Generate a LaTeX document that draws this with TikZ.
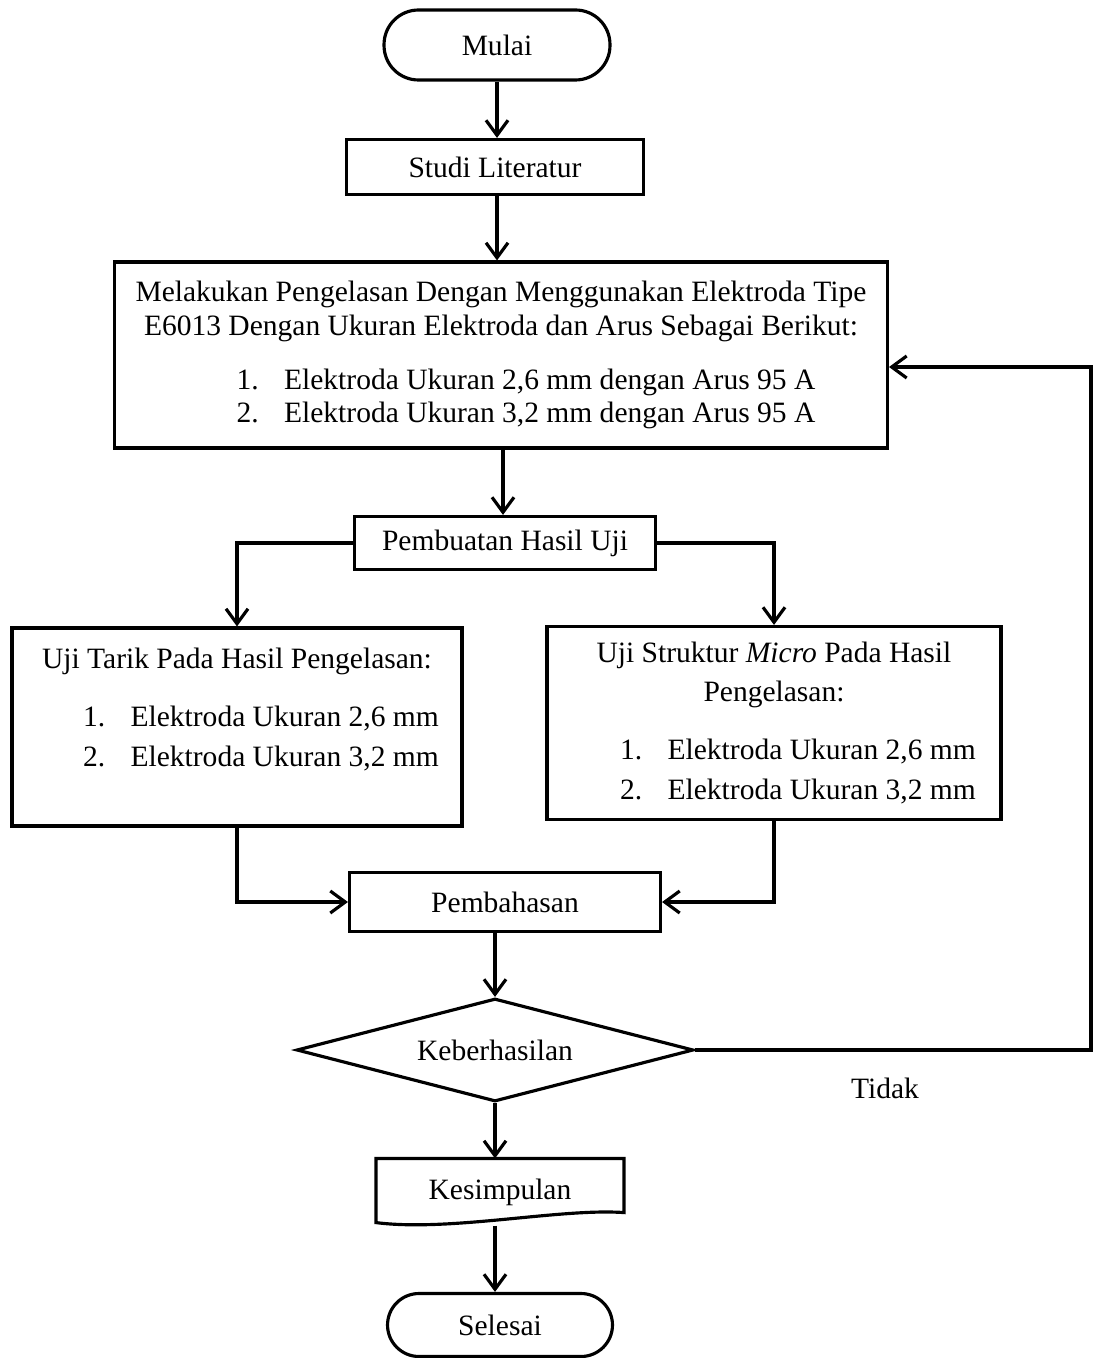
\documentclass[tikz,border=0pt]{standalone}
\usepackage{fontspec}
\setmainfont{Liberation Serif}
\usepackage{tikz}
\usetikzlibrary{arrows.meta,calc,shapes.geometric,positioning}
\newcommand{\teksA}{\fontsize{16.8}{19.3}\selectfont}
\newcommand{\teksB}{\fontsize{16.8}{22.5}\selectfont}
\newcommand{\nomor}[1]{\makebox[0.95cm][l]{#1}}

\begin{document}
\begin{tikzpicture}[x=0.02cm,y=-0.02cm,line width=1.8pt,
  arr/.style={-{Straight Barb[length=0.3cm,width=0.44cm]}},
  box/.style={draw,rectangle,inner sep=0pt,font=\teksA,align=center},
  term/.style={box,rounded corners=#1},
  cabang/.style={box,font=\teksB}]
  \useasboundingbox (0,0) rectangle (1093,1358);
  % alur utama
  \node[term=0.69cm,minimum width=4.52cm,minimum height=1.4cm] (mulai) at (497,45) {Mulai};
  \node[box,minimum width=5.94cm,minimum height=1.1cm] (studi) at (495,167) {Studi Literatur};
  \node[box,minimum width=15.46cm,minimum height=3.72cm] (las) at (501,355)
    {Melakukan Pengelasan Dengan Menggunakan Elektroda Tipe\\
     E6013 Dengan Ukuran Elektroda dan Arus Sebagai Berikut:\\[0.4cm]
     \hspace*{1cm}\nomor{1.}Elektroda Ukuran 2,6 mm dengan Arus 95 A\\
     \hspace*{1cm}\nomor{2.}Elektroda Ukuran 3,2 mm dengan Arus 95 A};
  \node[box,minimum width=6.02cm,minimum height=1.06cm] (buat) at (505,543) {Pembuatan Hasil Uji};
  % dua pengujian
  \node[cabang,minimum width=9.0cm,minimum height=3.96cm] (tarik) at (237,727)
    {Uji Tarik Pada Hasil Pengelasan:\\[0.37cm]
     \hspace*{0.96cm}\nomor{1.}Elektroda Ukuran 2,6 mm\\
     \hspace*{0.96cm}\nomor{2.}Elektroda Ukuran 3,2 mm\\ \mbox{}};
  \node[cabang,minimum width=9.08cm,minimum height=3.86cm] (mikro) at (774,723)
    {Uji Struktur \textit{Micro} Pada Hasil\\ Pengelasan:\\[0.37cm]
     \hspace*{0.96cm}\nomor{1.}Elektroda Ukuran 2,6 mm\\
     \hspace*{0.96cm}\nomor{2.}Elektroda Ukuran 3,2 mm};
  \node[box,minimum width=6.22cm,minimum height=1.18cm] (bahas) at (505,902) {Pembahasan};
  \node[draw,diamond,aspect=3.85,inner sep=0pt,minimum width=7.94cm,minimum height=2.06cm,
    font=\teksA] (cek) at (495,1050) {Keberhasilan};
  \node[font=\teksA] (tidak) at (885,1088) {Tidak};
  % dokumen dengan sisi bawah bergelombang
  \node[inner sep=0pt,minimum width=4.9cm,minimum height=1.28cm,font=\teksA] (simpul) at (500,1192) {Kesimpulan};
  \draw (simpul.north west) -- (simpul.north east) -- ($(simpul.south east)+(0,-13)$)
    .. controls (560,1208) and (450,1232) .. ($(simpul.south west)+(0,-3)$) -- cycle;
  \node[term=0.63cm,minimum width=4.5cm,minimum height=1.26cm] (selesai) at (500,1325) {Selesai};
  % penghubung
  \draw[arr] (mulai.south) -- (mulai.south |- studi.north);
  \draw[arr] (studi.south -| mulai) -- (mulai |- las.north);
  \draw[arr] (las.south -| 503,0) -- (buat.north -| 503,0);
  \draw[arr] (buat.west) -| (tarik.north);
  \draw[arr] (buat.east) -| (mikro.north);
  \draw[arr] (tarik.south) |- (bahas.west);
  \draw[arr] (mikro.south) |- (bahas.east);
  \draw[arr] (bahas.south -| cek) -- (cek.north);
  \draw[arr] (cek.south) -- (cek.south |- simpul.north);
  \draw[arr] (simpul.south -| cek) -- (cek |- selesai.north);
  \coordinate (balik) at (1091,367);
  \draw[arr] (cek.east) -| (balik) -- (balik -| las.east);
\end{tikzpicture}
\end{document}
